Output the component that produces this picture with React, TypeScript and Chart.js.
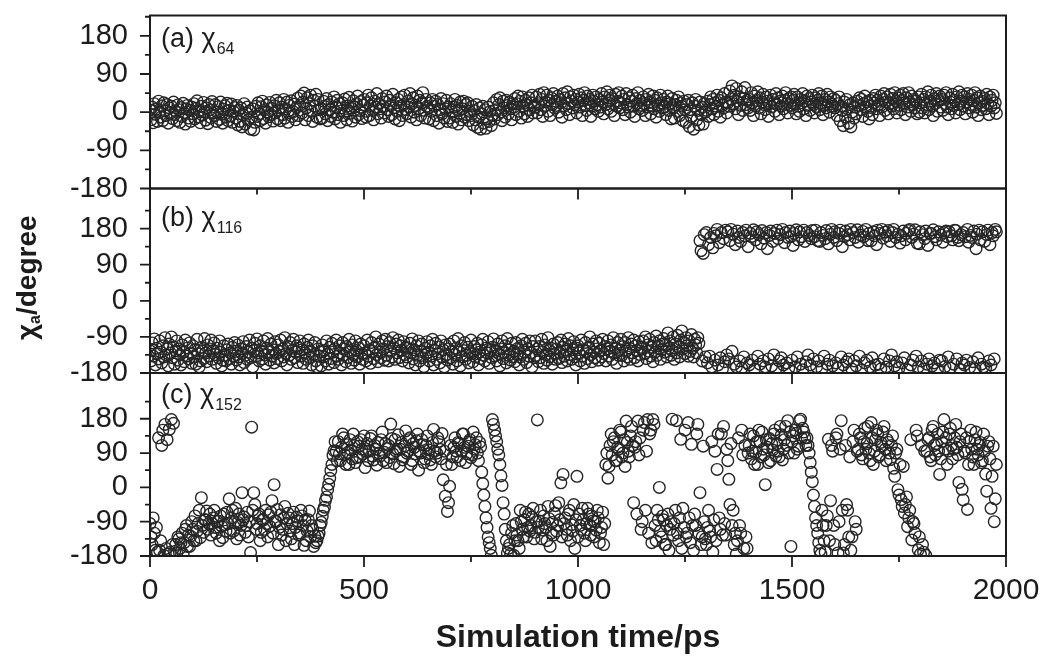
import React, { useEffect, useRef } from 'react';
import { Chart, registerables } from 'chart.js';

Chart.register(...registerables);

const W = 1048;
const H = 660;
const FONT = "'Liberation Sans', Arial, Helvetica, sans-serif";
const INK = '#1c1c1c';

// ---------------- data ----------------
const SAMPLE_STEP_PS = 2.5; // one sample every 2.5 ps, first sample at t = 0
const X_MIN = 0;
const X_MAX = 2000;
const X_TICKS = [0, 500, 1000, 1500, 2000];
const Y_TICKS = [-180, -90, 0, 90, 180];
const X_TITLE = 'Simulation time/ps';
const Y_TITLE = ['χ', 'a', '/degree'];
const PANEL_TAGS = ['(a) ', '(b) ', '(c) '];
const PANEL_SUBS = ['64', '116', '152'];

// (a) chi64, 20 samples (50 ps) per row
const CHI64 = [
  5, -18, 12, -25, 20, -5, 8, -22, 26, 0, -12, 15, -20, 22, 3, -8, 18, -26, 10, -3,
  14, -15, 24, -6, 2, -20, 17, 6, -24, 11, -10, 21, -2, -28, 8, 16, -14, 4, -22, 12,
  -4, 20, -16, 9, 27, -11, 3, -25, 14, -7, 23, 1, -19, 10, -27, 18, 6, -13, 25, -2,
  -8, 18, -22, 0, 13, -17, 24, -5, -26, 7, 15, -12, 21, -20, 4, -9, 19, -24, 2, 11,
  -14, 16, -30, 5, -22, 10, -35, -6, 20, -28, -2, 12, -18, 3, -40, -12, 8, -42, -24, 14,
  -10, 22, -4, -20, 13, 26, -15, 6, -26, 17, 0, -11, 23, -6, 9, -21, 15, -2, 28, -16,
  4, 22, -20, 12, -6, 30, -14, 8, 24, -24, 16, -2, 27, -10, 1, 19, -18, 11, 33, -8,
  16, 38, -2, 24, 45, -18, 10, 34, -8, 20, 40, 2, -22, 28, 14, 42, -12, 30, 6, -16,
  8, -14, 26, 14, -4, 32, -20, 18, 6, -10, 24, 0, 36, -16, 12, 28, -6, 20, -24, 10,
  22, -8, 31, 3, -18, 15, 35, -3, 9, -21, 27, 12, -12, 20, 38, -6, 4, 25, -15, 17,
  30, 2, -12, 22, 40, -8, 16, 34, 4, -18, 26, 12, 44, -4, 20, 8, -14, 32, 14, -2,
  24, 38, 6, -10, 28, 16, -6, 42, 10, -16, 22, 2, 30, -20, 14, 36, -8, 18, 40, 6,
  -4, 26, 12, 44, -12, 20, 34, 0, 16, -18, 38, 8, 28, -8, 22, 46, 4, -14, 30, 14,
  10, -16, 22, 2, 30, -20, 14, 26, -8, 18, -26, 6, 32, -4, 20, -14, 8, 28, -22, 12,
  -14, 20, 0, -24, 12, 30, -10, 16, -28, 4, 24, -18, 8, 26, -12, 18, -6, 22, -20, 2,
  -8, 14, -30, 4, -18, 18, -36, -12, 10, -40, -4, 14, -26, 6, -38, -16, 12, -22, 2, -32,
  -8, 22, -16, 6, 30, -6, 18, 34, 0, -20, 26, 10, -12, 28, 16, -4, 24, 8, -18, 20,
  12, 32, -6, 20, 38, 2, 26, -14, 36, 14, -4, 28, 18, -10, 34, 6, 22, 40, -2, 16,
  12, 36, -2, 20, 42, 6, 30, -10, 46, 14, 24, 40, 2, 28, -8, 34, 18, 44, 10, 26,
  16, 38, 0, 30, 22, -12, 44, 14, 34, 6, 48, 20, -6, 36, 26, 10, 40, 18, 30, -2,
  24, 42, 12, 34, -8, 28, 46, 16, 4, 38, 22, 30, -10, 14, 40, 26, 8, 36, 18, 2,
  30, 12, 44, 24, -4, 36, 18, 48, 8, 28, 40, 2, 32, 20, -8, 42, 14, 26, 46, 10,
  22, 38, 6, 30, -6, 44, 18, 12, 34, 0, 26, 40, 14, -10, 32, 20, 46, 8, 28, 16,
  4, 36, 20, -8, 30, 12, 42, 24, -4, 16, 38, 8, 28, -12, 34, 18, 2, 40, 22, 10,
  30, 12, -6, 24, 38, 4, 20, -16, 32, 10, -14, 18, 28, 2, 36, -8, 22, 14, -20, 26,
  6, -24, 18, 28, -34, 6, -12, 22, -40, 14, 30, -18, 4, -30, 24, -6, 12, -28, 20, 0,
  4, 26, -10, 18, 36, 8, 30, -6, 22, 14, 40, 2, 28, -12, 34, 16, 10, 44, 24, -2,
  22, 14, 50, 30, 62, 20, 40, 8, 56, 26, -6, 36, 16, 48, 4, 32, 58, 18, 28, 10,
  30, 4, 46, 22, -8, 38, 14, 28, 48, 10, 34, -4, 24, 42, 18, 6, 36, 26, -10, 20,
  40, 12, 30, 22, 2, 44, 18, 34, -6, 26, 14, 38, 8, 28, 46, 20, -2, 32, 16, 36,
  10, 28, 42, 20, -4, 36, 14, 2, 30, 22, 44, 8, 26, -8, 38, 16, 32, 4, 24, 40,
  18, -2, 34, 12, 28, 44, 6, 22, 38, -6, 16, 30, 10, 42, 24, 0, 36, 20, 14, 32,
  10, 28, -8, 20, 36, -20, 14, 4, -32, 24, -12, 30, 8, -26, 18, -35, 0, 22, -14, 12,
  -4, 26, 16, 34, 6, 30, -10, 20, 38, 12, 24, 2, -16, 28, 14, -6, 32, 22, 40, 8,
  28, 18, -8, 38, 12, 30, 44, 4, 24, 36, -4, 20, 42, 14, 32, 8, 46, 26, -2, 34,
  16, 40, 6, 28, 44, 22, -6, 34, 12, 46, 24, 2, 38, 18, 30, 10, 26, -4, 36, 0,
  22, 42, 10, 30, -2, 36, 18, 48, 6, 26, 40, 14, -8, 32, 20, 44, 2, 28, 38, 12,
  30, 4, 40, 20, 46, 12, -6, 34, 24, 8, 42, 16, 28, -2, 36, 18, 48, 6, 26, 40,
  14, 36, -4, 24, 44, 10, 30, 18, 40, 0, 28, 46, 12, 34, -8, 22, 38, 6, 26, 16,
  32, 8, 42, 20, -6, 36, 14, 28, 40, 10, 22, -3,
];

// (b) chi116, 20 samples (50 ps) per row
const CHI116 = [
  -125, -150, -105, -138, -95, -160, -118, -132, -145, -100, -128, -155, -112, -140, -92, -135, -120, -162, -108, -130,
  -90, -142, -115, -158, -125, -100, -148, -120, -135, -160, -110, -128, -152, -98, -138, -118, -145, -105, -130, -156,
  -112, -140, -122, -158, -96, -132, -165, -150, -116, -126, -144, -94, -130, -152, -110, -138, -120, -98, -146, -124,
  -105, -134, -156, -118, -142, -100, -128, -162, -148, -112, -136, -150, -122, -108, -144, -130, -158, -116, -138, -104,
  -126, -148, -110, -140, -160, -120, -132, -102, -154, -136, -114, -146, -128, -98, -142, -118, -165, -124, -106, -138,
  -95, -130, -150, -112, -125, -145, -100, -135, -158, -118, -94, -128, -148, -108, -138, -122, -155, -102, -132, -144,
  -110, -126, -98, -150, -120, -140, -92, -132, -160, -114, -136, -104, -146, -124, -96, -142, -128, -112, -154, -118,
  -100, -138, -122, -156, -108, -130, -146, -116, -98, -142, -126, -160, -112, -134, -104, -150, -165, -120, -138, -128,
  -162, -110, -140, -124, -150, -100, -132, -158, -116, -144, -106, -128, -154, -120, -98, -138, -146, -112, -130, -160,
  -104, -136, -120, -152, -114, -142, -96, -128, -156, -110, -134, -148, -100, -124, -140, -118, -158, -108, -132, -146,
  -112, -130, -150, -98, -138, -122, -156, -104, -126, -144, -116, -90, -134, -152, -108, -128, -142, -100, -120, -148,
  -96, -136, -114, -150, -104, -126, -140, -92, -118, -146, -108, -130, -98, -142, -112, -124, -150, -102, -134, -116,
  -140, -118, -155, -106, -130, -95, -145, -122, -160, -112, -136, -100, -150, -126, -108, -142, -164, -118, -132, -102,
  -128, -150, -112, -138, -96, -160, -124, -106, -146, -132, -115, -155, -100, -140, -122, -165, -110, -134, -148, -120,
  -108, -142, -126, -158, -100, -134, -118, -150, -94, -128, -162, -112, -140, -124, -104, -146, -136, -116, -155, -130,
  -98, -132, -152, -114, -140, -122, -106, -160, -128, -144, -110, -96, -136, -150, -118, -130, -102, -156, -124, -142,
  -116, -95, -138, -126, -150, -108, -132, -162, -120, -100, -144, -130, -112, -155, -94, -136, -122, -148, -106, -140,
  -126, -152, -104, -134, -118, -160, -140, -112, -96, -146, -128, -106, -154, -120, -138, -100, -130, -165, -114, -142,
  -100, -136, -120, -152, -114, -142, -96, -128, -156, -110, -134, -148, -92, -124, -140, -118, -158, -108, -132, -146,
  -120, -104, -144, -130, -98, -154, -116, -138, -108, -126, -150, -94, -134, -112, -146, -122, -102, -140, -160, -118,
  -112, -130, -150, -98, -138, -122, -156, -104, -126, -144, -116, -90, -134, -152, -108, -128, -142, -100, -120, -148,
  -106, -124, -140, -96, -132, -114, -150, -120, -100, -138, -126, -110, -146, -92, -130, -118, -156, -104, -136, -122,
  -96, -136, -114, -150, -104, -126, -140, -92, -118, -146, -108, -130, -98, -142, -112, -124, -150, -102, -134, -116,
  -120, -100, -132, -90, -144, -110, -126, -96, -138, -116, -152, -104, -128, -88, -136, -112, -100, -146, -122, -108,
  -94, -128, -110, -140, -80, -118, -100, -136, -124, -90, -146, -108, -130, -86, -116, -140, -98, -75, -120, -104,
  -132, -92, -112, -138, -100, -126, -84, -118, -140, -96, -110, -130, -92, -106, 150, 125, -150, 118, 165, -140,
  170, -155, 140, -138, 158, -165, 132, 168, -148, 162, 178, -160, 145, -142, 170, -170, 155, -152, 176, -135,
  172, -145, 150, 178, -126, 166, -158, 140, -165, 174, 158, -150, 148, -168, 170, -140, 162, 176, -155, 135,
  -160, 168, 160, -148, 177, -170, 152, 172, -138, 165, -158, 142, 175, -150, 156, -165, 170, 130, -145, 163,
  174, -162, 148, -135, 168, -170, 176, 155, -150, 165, -142, 178, -160, 145, 170, -155, 158, -168, 174, 160,
  -148, 138, 168, -165, 177, -140, 152, 172, -158, 160, -172, 176, 148, -152, 170, -135, 163, -160, 155, 175,
  -145, 160, 176, -165, 150, -150, 148, 170, -170, 163, -138, 155, 175, -158, 142, -148, 166, 178, -162, 158,
  172, -155, 150, -168, 168, 176, -140, 135, -160, 160, 174, -152, 165, -145, 152, 178, -170, 170, -150, 158,
  -162, 177, 146, -138, 164, -172, 173, 160, -155, 178, -148, 150, 168, -165, 150, -142, 172, 162, -160, 140,
  176, -158, 168, -170, 178, 156, -145, 171, -165, 162, 175, -150, 148, -135, 170, 178, -162, 158, -152, 166,
  -168, 144, 162, -155, 174, -142, 152, 168, -172, 175, 178, -160, 158, -148, 166, 177, -138, 144, -165, 142,
  172, -150, 165, -170, 155, 174, -158, 138, -145, 168, 168, -162, 177, -155, 160, 152, -170, 172, -148, 164,
  -150, 146, 170, -164, 174, 160, -140, 172, -168, 162, 152, -158, 176, 175, -145, 158, 150, -172, 165, -155,
  170, -160, 160, -148, 178, 146, -166, 163, 158, -152, 174, -170, 130, 166, -142, 176, 152, -158, 172, -165,
  148, -168, 165, 176, -150, 140, -160, 170, 162, -145, 178, 172,
];

// (c) chi152, grouped by time stretch
const CHI152 = [
  // 0 - 17.5 ps
  -95, -130, -150, -80, -120, -165, -105, -170,
  // 20 - 57.5
  130, -165, -140, 110, 150, -178, 165, -160, 125, -175, 152, -170, 178, -150, 168, -168,
  // 60 - 127.5
  -150, -172, -130, -135, -160, -145, -120, -175, -145, -110, -100, -155, -125, -155, -128, -90, -110, -140, -75, -140,
  -115, -95, -60, -132, -27, -100, -118, -85,
  // 130 - 387.5
  -85, -62, -110, -95, -70, -125, -95, -80, -60, -105, -120, -90, -88, -140, -75, -102, -132, -70, -98, -115,
  -65, -95, -30, -120, -80, -60, -115, -92, -55, -135, -92, -70, -125, -100, -14, -85, -78, -118, -100, -65,
  -130, -90, -171, 158, -60, -14, -45, -110, -95, -75, -70, -140, -118, -85, -85, -110, -60, -95, -130, -72,
  -102, -65, -35, -120, 7, -88, -90, -58, -150, -105, -72, -125, -110, -80, -50, -140, -95, -68, -80, -115,
  -135, -95, -65, -150, -105, -78, -88, -125, -120, -60, -75, -100, -152, -85, -140, -115, -85, -62, -130, -100,
  -110, -155, -128, -145,
  // 390 - 430
  -140, -128, -120, -100, -92, -76, -60, -52, -34, -25, -6, 8, 24, 44, 60, 84, 96,
  // 432.5 - 667.5
  120, 95, 70, 120, 88, 70, 105, 140, 130, 85, 60, 112, 92, 60, 125, 98, 75, 140, 110, 65,
  78, 120, 108, 80, 125, 100, 88, 135, 52, 95, 115, 70, 95, 128, 135, 82, 72, 110, 100, 58,
  118, 90, 82, 125, 145, 70, 92, 115, 65, 102, 110, 78, 166, 128, 88, 62, 125, 95, 100, 138,
  55, 100, 118, 72, 80, 108, 148, 90, 95, 125, 130, 60, 70, 115, 105, 88, 122, 140, 45, 95,
  90, 125, 112, 65, 75, 110, 135, 88, 98, 72, 60, 118, 152, 95, 80,
  // 670 - 710
  90, 130, 120, 100, 75, 141, 20, 95, -23, 60, -63, -40, 3, 110, 60, 80, 105,
  // 712.5 - 770
  130, 95, 80, 118, 115, 70, 95, 140, 140, 105, 65, 88, 108, 120, 125, 78, 85, 145, 100, 112,
  130, 90, 70, 118,
  // 772.5 - 790
  106, 40, 10, -20, -50, -80, -105, -130,
  // 792.5 - 837.5
  -145, -160, -178, 178, 165, 150, 135, 120, 100, 85, 60, 30, 5, -40, -70, -110, -140, -172, -160,
  // 840 - 1062.5
  -150, -175, -120, -100, -178, -140, -95, -125, -140, -160, -60, -90, -110, -130, -85, -65, -130, -105, -70, -115,
  -100, -78, -55, -135, -118, -90, 177, -105, -88, -60, -135, -112, -75, -95, -105, -140, -50, -82, -155, -120,
  -92, -125, -68, -48, -115, -100, -40, -85, 12, -130, 34, -95, -80, -110, -125, -70, -60, -140, -98, -115,
  -45, -160, -85, 29, -130, -70, -100, -110, -55, -85, -120, -140, -95, -55, -70, -100, -125, -75, -88, -130,
  -90, -112, -60, -80, -145, -120, -105, -65, -150, -95,
  // 1065 - 1127.5
  60, 90, 24, 55, 110, 140, 85, 120, 130, 70, 70, 105, 100, 150, 145, 80, 90, 125, 55, 174,
  118, 95, 80, 135, 160, 110,
  // 1130 - 1177.5
  -40, 105, 120, -70, 174, 85, 130, -110, -90, 150, 170, -60, 95, 178, -120, 140, 150, -145, 178, 165,
  // 1180 - 1292.5
  -100, -140, -60, -85, 0, -115, -130, -75, -85, -150, -150, -100, -70, -165, -110, -90, 179, -125, -95, -60,
  175, -120, -140, -80, 126, -160, -55, -105, 150, -130, -120, 170, -80, -145, 113, -100, -165, -70, -100, 140,
  165, -120, -14, -150, -130, 108,
  // 1295 - 1397.5
  -90, -135, -150, -105, -60, -115, -130, 120, -170, -85, 95, -140, 47, 140, -80, -110, 140, -125, 160, -95,
  -125, 100, 70, 21, -45, 115, -100, -60, -150, -120, -175, -140, 130, -100, -120, 150, 85, -160, 110, -130,
  -160, 90,
  // 1400 - 1532.5
  110, 140, 75, 95, 135, 60, 92, 120, 60, 150, 120, 80, 145, 100, 85, 7, 125, 105, 65, 128,
  70, 115, 98, 140, 150, 82, 115, 95, 80, 160, 138, 72, 100, 125, 160, 110, 175, 90, 145, -155,
  120, 135, 90, 150, 142, 100, 108, 175, 179, 130, 155, 145, 130, 110,
  // 1535 - 1652.5
  130, 110, 90, 65, 40, 15, -20, -50, -80, -100, -120, -145, -165, -175, -60, -100, -140, -170, -100, -75,
  126, -140, -35, 110, 95, -100, -150, 130, 140, -172, -90, 100, 175, -60, -172, -150, 110, -45, -60, -130,
  80, -165, -130, 120, 150, -90, -110, 95,
  // 1655 - 1727.5
  100, 140, 130, 85, 75, 120, 155, 100, 115, 160, 90, 70, 170, 130, 60, 95, 125, 150, 140, 80,
  85, 118, 108, 145, 160, 100, 70, 125, 118, 90,
  // 1730 - 1812.5
  73, 110, 135, 50, 29, 90, 100, -6, -20, 60, -32, -50, 55, -67, -45, -25, -103, -80, -60, 125,
  -138, -90, -95, -120, 150, 135, -164, -130, -175, 110, -150, -170, 95, -178,
  // 1815 - 1977.5
  95, 125, 130, 80, 70, 150, 160, 110, 85, 115, 140, 95, 34, 75, 120, 145, 178, 100, 130, 60,
  95, 140, 155, 110, 75, 100, 130, 165, 105, 85, 13, 120, 140, -5, -33, 95, 90, 130, -58, 60,
  120, 150, 100, 80, 60, 125, 145, 100, 85, 110, 118, 65, 70, 140, 95, 35, -10, 108, 120, 75,
  -55, 29, 108, -90, -30, 60,
];

// ---------------- layout ----------------
const PANELS = [
  { values: CHI64, yMax: 228, top: 15.5, bottom: 188.5, labelDy: 24, yTitle: false, last: false },
  { values: CHI116, yMax: 280, top: 188.5, bottom: 373, labelDy: 30, yTitle: true, last: false },
  { values: CHI152, yMax: 300, top: 373, bottom: 556, labelDy: 23, yTitle: false, last: true },
];
const PLOT_LEFT = 150;
const PLOT_RIGHT = 1006;
const X_AXIS_BOX = 104;

const frameTicksPlugin = {
  id: 'frameTicks',
  afterDraw(chart: any) {
    const { ctx, chartArea: a, scales } = chart;
    const xs = scales.x;
    const ys = scales.y;
    ctx.save();
    ctx.strokeStyle = INK;
    ctx.lineWidth = 2;
    ctx.strokeRect(a.left, a.top, a.right - a.left, a.bottom - a.top);
    ctx.lineWidth = 1.8;
    ctx.beginPath();
    const yv = ys.ticks.map((t: any) => t.value);
    const ystep = yv[1] - yv[0];
    yv.forEach((v: number) => {
      const p = ys.getPixelForValue(v);
      ctx.moveTo(a.left - 10, p);
      ctx.lineTo(a.left, p);
    });
    for (let v = yv[0] + ystep / 2; v < ys.max; v += ystep) {
      const p = ys.getPixelForValue(v);
      ctx.moveTo(a.left - 5, p);
      ctx.lineTo(a.left, p);
    }
    const xv = xs.ticks.map((t: any) => t.value);
    const xstep = xv[1] - xv[0];
    xv.forEach((v: number) => {
      const p = xs.getPixelForValue(v);
      ctx.moveTo(p, a.bottom);
      ctx.lineTo(p, a.bottom + 11);
    });
    for (let v = xv[0] + xstep / 2; v < xs.max; v += xstep) {
      const p = xs.getPixelForValue(v);
      ctx.moveTo(p, a.bottom);
      ctx.lineTo(p, a.bottom + 6);
    }
    ctx.stroke();
    ctx.restore();
  },
};

const panelLabelPlugin = {
  id: 'panelLabel',
  afterDraw(chart: any, _args: any, opts: any) {
    if (!opts || !opts.tag) return;
    const { ctx, chartArea: a } = chart;
    ctx.save();
    ctx.fillStyle = INK;
    ctx.textBaseline = 'middle';
    ctx.textAlign = 'left';
    ctx.font = `27px ${FONT}`;
    const x0 = a.left + 11;
    const y0 = a.top + opts.dy;
    const main = opts.tag + 'χ';
    ctx.fillText(main, x0, y0);
    const w = ctx.measureText(main).width;
    ctx.font = `16px ${FONT}`;
    ctx.fillText(opts.sub, x0 + w + 1, y0 + 10);
    ctx.restore();
  },
};

const yTitlePlugin = {
  id: 'yTitle',
  afterDraw(chart: any, _args: any, opts: any) {
    if (!opts || !opts.show) return;
    const { ctx, chartArea: a } = chart;
    ctx.save();
    ctx.fillStyle = INK;
    ctx.textBaseline = 'middle';
    ctx.textAlign = 'left';
    ctx.translate(28, (a.top + a.bottom) / 2 - 3);
    ctx.rotate(-Math.PI / 2);
    const big = `bold 28px ${FONT}`;
    const small = `bold 16px ${FONT}`;
    ctx.font = big;
    const w0 = ctx.measureText(Y_TITLE[0]).width;
    const w2 = ctx.measureText(Y_TITLE[2]).width;
    ctx.font = small;
    const w1 = ctx.measureText(Y_TITLE[1]).width;
    let x = -(w0 + w1 + w2) / 2;
    ctx.font = big;
    ctx.fillText(Y_TITLE[0], x, 0);
    x += w0;
    ctx.font = small;
    ctx.fillText(Y_TITLE[1], x, 8);
    x += w1;
    ctx.font = big;
    ctx.fillText(Y_TITLE[2], x, 0);
    ctx.restore();
  },
};

function zeroScalePadding(s: any) {
  s.paddingLeft = 0;
  s.paddingRight = 0;
  s.paddingTop = 0;
  s.paddingBottom = 0;
}

function makeConfig(idx: number): any {
  const p = PANELS[idx];
  const pts = p.values.map((v, i) => ({ x: i * SAMPLE_STEP_PS, y: v }));
  return {
    type: 'scatter',
    data: {
      datasets: [
        {
          data: pts,
          pointStyle: 'circle',
          pointRadius: 5.8,
          pointHoverRadius: 5.8,
          pointBorderWidth: 1.4,
          pointBorderColor: '#262626',
          pointBackgroundColor: 'rgba(0,0,0,0)',
          showLine: false,
        },
      ],
    },
    options: {
      responsive: false,
      animation: false,
      events: [],
      layout: {
        padding: {
          left: 0,
          right: W - PLOT_RIGHT,
          top: p.top,
          bottom: p.last ? H - p.bottom - X_AXIS_BOX : H - p.bottom,
        },
      },
      plugins: {
        legend: { display: false },
        tooltip: { enabled: false },
        panelLabel: { tag: PANEL_TAGS[idx], sub: PANEL_SUBS[idx], dy: p.labelDy },
        yTitle: { show: p.yTitle },
      },
      scales: {
        x: {
          type: 'linear',
          min: X_MIN,
          max: X_MAX,
          afterBuildTicks: (s: any) => {
            s.ticks = X_TICKS.map((v) => ({ value: v }));
          },
          afterFit: (s: any) => {
            s.height = p.last ? X_AXIS_BOX : 0;
            zeroScalePadding(s);
          },
          grid: { display: false, drawTicks: false },
          border: { display: false },
          ticks: {
            display: p.last,
            autoSkip: false,
            maxRotation: 0,
            padding: 17,
            color: INK,
            font: { family: FONT, size: 30 },
            callback: (v: any) => String(v),
          },
          title: {
            display: p.last,
            text: X_TITLE,
            color: INK,
            font: { family: FONT, size: 32, weight: 'bold' },
            padding: { top: 0, bottom: 3 },
          },
        },
        y: {
          type: 'linear',
          min: -180,
          max: p.yMax,
          afterBuildTicks: (s: any) => {
            s.ticks = Y_TICKS.map((v) => ({ value: v }));
          },
          afterFit: (s: any) => {
            s.width = PLOT_LEFT;
            zeroScalePadding(s);
          },
          grid: { display: false, drawTicks: false },
          border: { display: false },
          ticks: {
            padding: 22,
            color: INK,
            font: { family: FONT, size: 29 },
            callback: (v: any) => String(v),
          },
        },
      },
    },
    plugins: [frameTicksPlugin, panelLabelPlugin, yTitlePlugin],
  };
}

function Panel({ idx }: { idx: number }) {
  const ref = useRef<HTMLCanvasElement | null>(null);
  useEffect(() => {
    if (!ref.current) return;
    const chart = new Chart(ref.current, makeConfig(idx));
    return () => chart.destroy();
  }, [idx]);
  return (
    <canvas
      ref={ref}
      width={W}
      height={H}
      style={{ position: 'absolute', left: 0, top: 0, width: W, height: H }}
    />
  );
}

export default function App() {
  return (
    <div
      style={{
        position: 'absolute',
        left: 0,
        top: 0,
        width: W,
        height: H,
        background: '#ffffff',
        overflow: 'hidden',
      }}
    >
      <Panel idx={0} />
      <Panel idx={1} />
      <Panel idx={2} />
    </div>
  );
}
